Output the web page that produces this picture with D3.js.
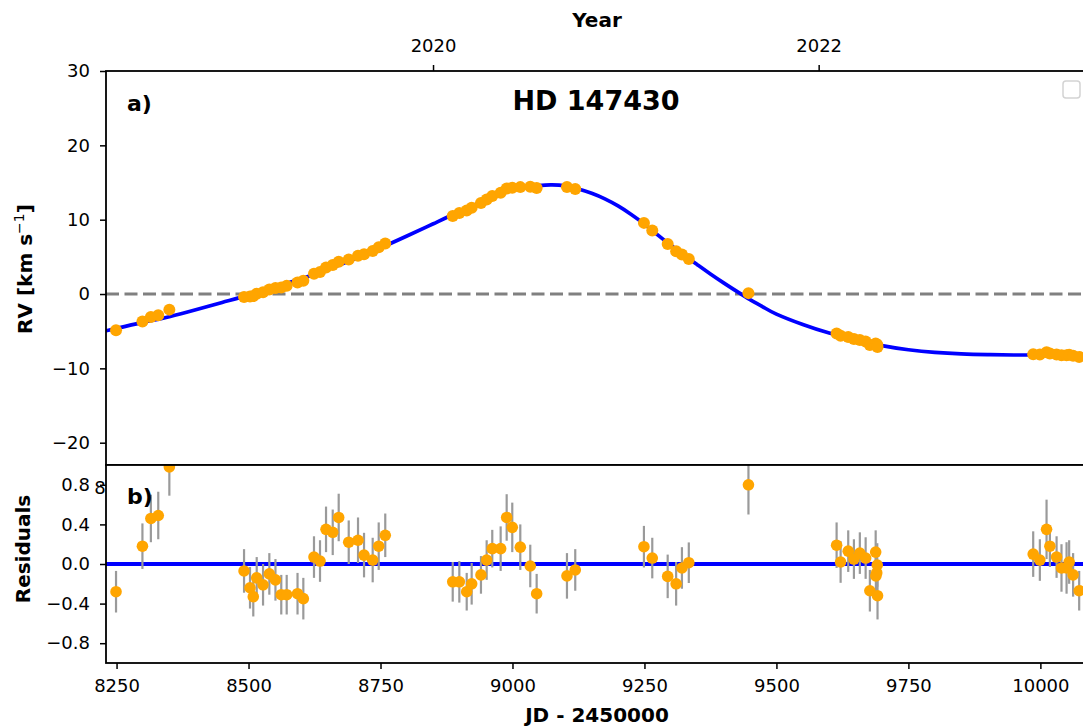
<!DOCTYPE html>
<html>
<head>
<meta charset="utf-8">
<script src="https://cdn.jsdelivr.net/npm/d3@7"></script>
<style>
  body { margin: 0; background: #fff; }
  svg { display: block; font-family: "DejaVu Sans", sans-serif; }
</style>
</head>
<body>
<svg id="chart" width="1083" height="727"></svg>
<script>
// Radial-velocity epochs, JD - 2450000
const obsJd = [
  8249, 8299, 8315, 8329, 8350,
  8491.5, 8502.8, 8509, 8515.5, 8527.5, 8539.4, 8551, 8562, 8572.3, 8592.8, 8603.8,
  8624, 8635.4, 8646.8, 8659.5, 8670.8, 8689.8, 8707.4, 8718.8, 8735.2, 8746.6, 8759,
  8886.8, 8899.3, 8913.3, 8922.7, 8940.3, 8951.1, 8961.7, 8977.6, 8989, 8999.6, 9014.8,
  9033.7, 9045.8, 9103.2, 9118.9,
  9249, 9264.8, 9294, 9310, 9321, 9334, 9447,
  9614, 9621.6, 9636, 9646.8, 9658, 9669, 9677, 9688, 9688.4, 9690, 9691, 9691.5,
  9986.4, 9999, 10011.7, 10018, 10030.7, 10040, 10049.6, 10054.5, 10062, 10073.5
];
// Measured radial velocities, km/s
const obsRv = [
  -4.88, -3.70, -3.10, -2.85, -2.10,
  -0.39, -0.33, -0.28, 0.05, 0.24, 0.62, 0.81, 0.89, 1.11, 1.55, 1.79,
  2.72, 2.97, 3.57, 3.89, 4.35, 4.64, 5.16, 5.35, 5.80, 6.28, 6.78,
  10.48, 10.90, 11.23, 11.60, 12.24, 12.72, 13.17, 13.62, 14.19, 14.31, 14.38,
  14.44, 14.27, 14.40, 14.14,
  9.57, 8.54, 6.72, 5.76, 5.33, 4.71, 0.12,
  -5.31, -5.62, -5.77, -6.05, -6.17, -6.40, -6.85, -6.64, -6.88, -6.88, -6.81, -7.13,
  -8.09, -8.15, -7.84, -8.01, -8.12, -8.23, -8.23, -8.17, -8.30, -8.46
];
// Measurement uncertainties, km/s
const obsErr = [
  0.21, 0.23, 0.24, 0.24, 0.29,
  0.22, 0.21, 0.20, 0.21, 0.21, 0.21, 0.21, 0.20, 0.20, 0.21, 0.21,
  0.21, 0.21, 0.23, 0.23, 0.24, 0.22, 0.23, 0.225, 0.225, 0.24, 0.22,
  0.20, 0.21, 0.19, 0.21, 0.19, 0.20, 0.19, 0.225, 0.235, 0.25, 0.23,
  0.215, 0.20, 0.23, 0.21,
  0.21, 0.205, 0.22, 0.22, 0.21, 0.205, 0.30,
  0.23, 0.21, 0.21, 0.20, 0.21, 0.21, 0.21, 0.22, 0.22, 0.23, 0.22, 0.24,
  0.23, 0.21, 0.30, 0.21, 0.21, 0.24, 0.26, 0.22, 0.22, 0.20
];
// Observed minus model, km/s
const obsResid = [
  -0.28, 0.18, 0.46, 0.49, 0.98,
  -0.07, -0.24, -0.33, -0.14, -0.21, -0.10, -0.16, -0.31, -0.31, -0.30, -0.35,
  0.07, 0.03, 0.35, 0.32, 0.47, 0.22, 0.24, 0.09, 0.04, 0.18, 0.29,
  -0.18, -0.18, -0.28, -0.20, -0.11, 0.04, 0.155, 0.155, 0.47, 0.37, 0.17,
  -0.02, -0.30, -0.12, -0.06,
  0.175, 0.06, -0.125, -0.20, -0.04, 0.013, 0.80,
  0.19, 0.02, 0.13, 0.05, 0.11, 0.06, -0.27, 0.12, -0.12, -0.09, -0.01, -0.32,
  0.10, 0.04, 0.35, 0.18, 0.07, -0.04, -0.04, 0.02, -0.11, -0.27
];
// Orbital solution sampled along the time axis
const modelJd = [
  8230, 8250, 8300, 8350, 8400, 8450, 8500, 8550, 8600, 8650, 8700, 8750, 8800, 8850,
  8900, 8950, 9000, 9050, 9075, 9100, 9125, 9150, 9175, 9200, 9225, 9250, 9275, 9300,
  9325, 9350, 9375, 9400, 9425, 9450, 9475, 9500, 9550, 9600, 9650, 9700, 9750, 9800,
  9850, 9900, 9950, 10000, 10050, 10100
];
const modelRv = [
  -4.95, -4.62, -3.82, -3.05, -2.12, -1.13, -0.15, 0.95, 2.05, 3.30, 4.70, 6.20, 7.80, 9.45,
  11.10, 12.65, 13.95, 14.58, 14.68, 14.54, 14.12, 13.55, 12.80, 11.85, 10.70, 9.40, 7.95, 6.55,
  5.22, 3.95, 2.70, 1.50, 0.35, -0.75, -1.75, -2.70, -4.10, -5.25, -6.15, -6.95, -7.50, -7.85,
  -8.05, -8.15, -8.20, -8.20, -8.20, -8.20
];
const rvTicks = [-20, -10, 0, 10, 20, 30];
const residTicks = [-0.8, -0.4, 0, 0.4, 0.8];
const jdTicks = [8250, 8500, 8750, 9000, 9250, 9500, 9750, 10000];
const yearTicks = [2020, 2022];

const svg = d3.select("#chart");
const L = 106, R = 1090, T = 71, M = 465, B = 663;
const TICK_FONT = 18;

const x = d3.scaleLinear().domain([8230, 10094]).range([L, R]);
const yTop = d3.scaleLinear().domain([-23, 30]).range([M, T]);
const yRes = d3.scaleLinear().domain([-1, 1]).range([B, M]);
const yearToJd = yr => 1544.5 + (yr - 2000) * 365.25;

const minus = s => String(s).replace("-", "\u2212");
const fmtInt = d => minus(d3.format("d")(d));
const fmtRes = d => minus(d3.format(".1f")(d));

const obs = obsJd.map((t, i) => ({ t, rv: obsRv[i], e: obsErr[i], r: obsResid[i] }));
const model = modelJd.map((t, i) => ({ t, v: modelRv[i] }));

const defs = svg.append("defs");
defs.append("clipPath").attr("id", "clipTop")
  .append("rect").attr("x", L).attr("y", T).attr("width", R - L).attr("height", M - T);
defs.append("clipPath").attr("id", "clipRes")
  .append("rect").attr("x", L).attr("y", M).attr("width", R - L).attr("height", B - M);

function styleAxis(g) {
  g.select(".domain").remove();
  g.selectAll(".tick line").attr("stroke", "#000").attr("stroke-width", 1.5);
  g.selectAll(".tick text").attr("fill", "#000").attr("font-size", TICK_FONT)
    .attr("font-family", "DejaVu Sans, sans-serif");
}

// ---------- upper panel: RV ----------
const upper = svg.append("g");
upper.append("rect").attr("x", L).attr("y", T).attr("width", R - L).attr("height", M - T).attr("fill", "#fff");

upper.append("g").attr("transform", `translate(${L},0)`)
  .call(d3.axisLeft(yTop).tickValues(rvTicks).tickSize(6).tickPadding(10).tickFormat(fmtInt))
  .call(styleAxis);

// bottom tick labels of the upper panel (mostly hidden under the residual panel)
upper.append("g").attr("transform", `translate(0,${M})`)
  .call(d3.axisBottom(x).tickValues(jdTicks).tickSize(6).tickPadding(10).tickFormat(d => d))
  .call(styleAxis);

// secondary year axis on top
upper.append("g").attr("transform", `translate(0,${T})`)
  .call(d3.axisTop(x).tickValues(yearTicks.map(yearToJd)).tickSize(6).tickPadding(13)
    .tickFormat((d, i) => yearTicks[i]))
  .call(styleAxis);

const plotTop = upper.append("g").attr("clip-path", "url(#clipTop)");
plotTop.append("line")
  .attr("x1", L).attr("x2", R).attr("y1", yTop(0)).attr("y2", yTop(0))
  .attr("stroke", "#808080").attr("stroke-width", 3).attr("stroke-dasharray", "13,5.5");

plotTop.append("path").datum(model)
  .attr("fill", "none").attr("stroke", "#0000ff").attr("stroke-width", 3.7)
  .attr("d", d3.line().x(d => x(d.t)).y(d => yTop(d.v)).curve(d3.curveNatural));

plotTop.append("g").selectAll("line").data(obs).join("line")
  .attr("x1", d => x(d.t)).attr("x2", d => x(d.t))
  .attr("y1", d => yTop(d.rv - d.e)).attr("y2", d => yTop(d.rv + d.e))
  .attr("stroke", "#9a9a9a").attr("stroke-width", 2.2);

plotTop.append("g").selectAll("circle").data(obs).join("circle")
  .attr("cx", d => x(d.t)).attr("cy", d => yTop(d.rv)).attr("r", 6)
  .attr("fill", "#ffa500");

// empty legend frame
upper.append("rect").attr("x", 1063).attr("y", 81).attr("width", 17).attr("height", 17)
  .attr("rx", 3).attr("fill", "#fff").attr("stroke", "#d3d3d3").attr("stroke-width", 1.5);

upper.append("text").attr("x", 596).attr("y", 110).attr("text-anchor", "middle")
  .attr("font-size", 27).attr("font-weight", "bold").text("HD 147430");
upper.append("text").attr("x", 127).attr("y", 111)
  .attr("font-size", 22).attr("font-weight", "bold").text("a)");

upper.append("rect").attr("x", L).attr("y", T).attr("width", R - L).attr("height", M - T)
  .attr("fill", "none").attr("stroke", "#000").attr("stroke-width", 1.8);

// ---------- lower panel: residuals ----------
const lower = svg.append("g");
lower.append("rect").attr("x", L).attr("y", M).attr("width", R - L).attr("height", B - M).attr("fill", "#fff");

lower.append("g").attr("transform", `translate(${L},0)`)
  .call(d3.axisLeft(yRes).tickValues(residTicks).tickSize(6).tickPadding(10).tickFormat(fmtRes))
  .call(styleAxis);

lower.append("g").attr("transform", `translate(0,${B})`)
  .call(d3.axisBottom(x).tickValues(jdTicks).tickSize(6).tickPadding(10).tickFormat(d => d))
  .call(styleAxis);

const plotRes = lower.append("g").attr("clip-path", "url(#clipRes)");
plotRes.append("line")
  .attr("x1", L).attr("x2", R).attr("y1", yRes(0)).attr("y2", yRes(0))
  .attr("stroke", "#0000ff").attr("stroke-width", 4);

plotRes.append("g").selectAll("line").data(obs).join("line")
  .attr("x1", d => x(d.t)).attr("x2", d => x(d.t))
  .attr("y1", d => yRes(d.r - d.e)).attr("y2", d => yRes(d.r + d.e))
  .attr("stroke", "#9a9a9a").attr("stroke-width", 2.2);

plotRes.append("g").selectAll("circle").data(obs).join("circle")
  .attr("cx", d => x(d.t)).attr("cy", d => yRes(d.r)).attr("r", 5.8)
  .attr("fill", "#ffa500");

lower.append("text").attr("x", 127).attr("y", 504)
  .attr("font-size", 22).attr("font-weight", "bold").text("b)");

lower.append("rect").attr("x", L).attr("y", M).attr("width", R - L).attr("height", B - M)
  .attr("fill", "none").attr("stroke", "#000").attr("stroke-width", 1.8);

// ---------- axis titles ----------
svg.append("text").attr("x", 597).attr("y", 27).attr("text-anchor", "middle")
  .attr("font-size", 20).attr("font-weight", "bold").text("Year");
svg.append("text").attr("x", 597).attr("y", 722).attr("text-anchor", "middle")
  .attr("font-size", 20).attr("font-weight", "bold").text("JD - 2450000");

const rvLabel = svg.append("text").attr("transform", "translate(32,269) rotate(-90)")
  .attr("text-anchor", "middle").attr("font-size", 20).attr("font-weight", "bold");
rvLabel.append("tspan").text("RV [km s");
rvLabel.append("tspan").attr("font-size", 14).attr("font-weight", "normal").attr("dy", -8).text("\u22121");
rvLabel.append("tspan").attr("dy", 8).text("]");

svg.append("text").attr("transform", "translate(30,549) rotate(-90)")
  .attr("text-anchor", "middle").attr("font-size", 20).attr("font-weight", "bold").text("Residuals");
</script>
</body>
</html>
